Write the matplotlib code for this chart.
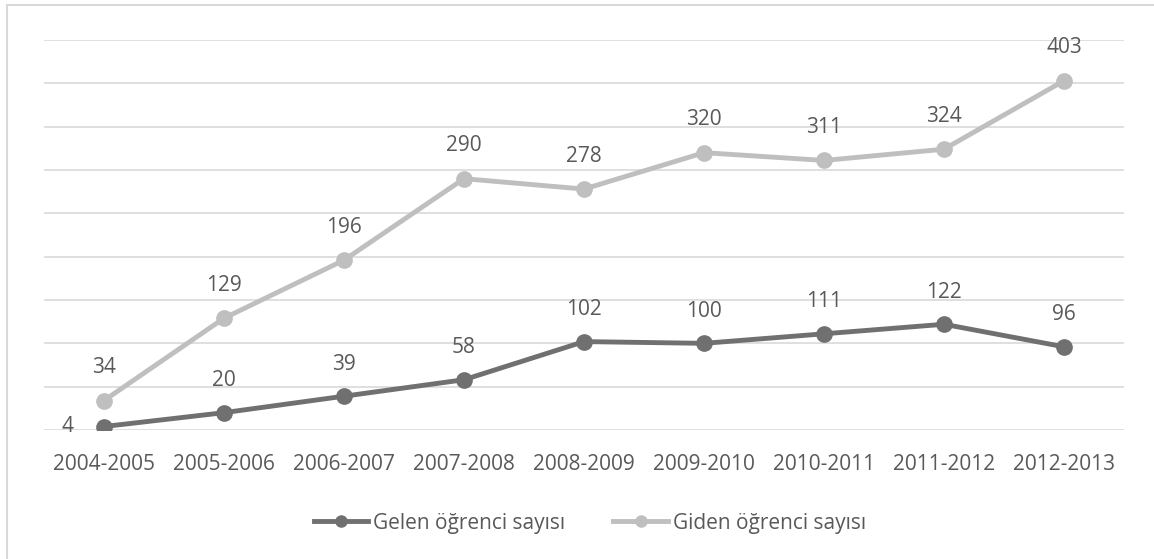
import numpy as np
import matplotlib.pyplot as plt
from matplotlib.lines import Line2D

years = ["2004-2005", "2005-2006", "2006-2007", "2007-2008", "2008-2009",
         "2009-2010", "2010-2011", "2011-2012", "2012-2013"]
gelen = [4, 20, 39, 58, 102, 100, 111, 122, 96]
giden = [34, 129, 196, 290, 278, 320, 311, 324, 403]

plt.rcParams['font.family'] = ['Open Sans', 'DejaVu Sans']
txt = '#595959'
c_gelen = '#707070'
c_giden = '#bfbfbf'
fs = 15

W, H = 1154, 559
fig = plt.figure(figsize=(W / 100, H / 100), dpi=100)
ax = fig.add_axes([44 / W, (H - 430) / H, 1080 / W, 390 / H])

x = np.arange(len(years))
ax.plot(x, gelen, color=c_gelen, lw=3.5, marker='o', ms=11, zorder=3)
ax.plot(x, giden, color=c_giden, lw=3.5, marker='o', ms=11, zorder=3)

for i, v in enumerate(gelen):
    if i == 0:
        ax.annotate(str(v), (i, v), xytext=(-36, 0), textcoords='offset pixels',
                    ha='center', va='center', fontsize=fs, color=txt)
    else:
        ax.annotate(str(v), (i, v), xytext=(0, 32), textcoords='offset pixels',
                    ha='center', va='center', fontsize=fs, color=txt)
for i, v in enumerate(giden):
    ax.annotate(str(v), (i, v), xytext=(0, 33), textcoords='offset pixels',
                ha='center', va='center', fontsize=fs, color=txt)

ax.set_xlim(-0.5, len(years) - 0.5)
ax.set_ylim(0, 450)
ax.set_yticks(np.arange(0, 451, 50))
ax.yaxis.grid(True, color='#d9d9d9', lw=1.2)
ax.set_axisbelow(True)
ax.tick_params(axis='y', length=0, labelleft=False)
ax.set_xticks(x)
ax.set_xticklabels(years, fontsize=fs, color=txt)
ax.tick_params(axis='x', length=0, pad=17)
for s in ax.spines.values():
    s.set_visible(False)

handles = [Line2D([], [], color=c_gelen, lw=3.5, marker='o', ms=8),
           Line2D([], [], color=c_giden, lw=3.5, marker='o', ms=8)]
leg = fig.legend(handles, ["Gelen öğrenci sayısı", "Giden öğrenci sayısı"],
                 loc='center', bbox_to_anchor=(590 / W, (H - 523) / H),
                 ncol=2, frameon=False, fontsize=fs, handlelength=2.6,
                 handletextpad=0.25, columnspacing=2.3)
for t in leg.get_texts():
    t.set_color(txt)

# outer chart border (left and top edges visible)
fig.add_artist(Line2D([6.5 / W, 6.5 / W], [0, (H - 5) / H], color='#d9d9d9', lw=1.5,
                      transform=fig.transFigure))
fig.add_artist(Line2D([6.5 / W, 1], [(H - 5) / H, (H - 5) / H], color='#d9d9d9', lw=1.5,
                      transform=fig.transFigure))

fig.savefig('out.png', dpi=100)
